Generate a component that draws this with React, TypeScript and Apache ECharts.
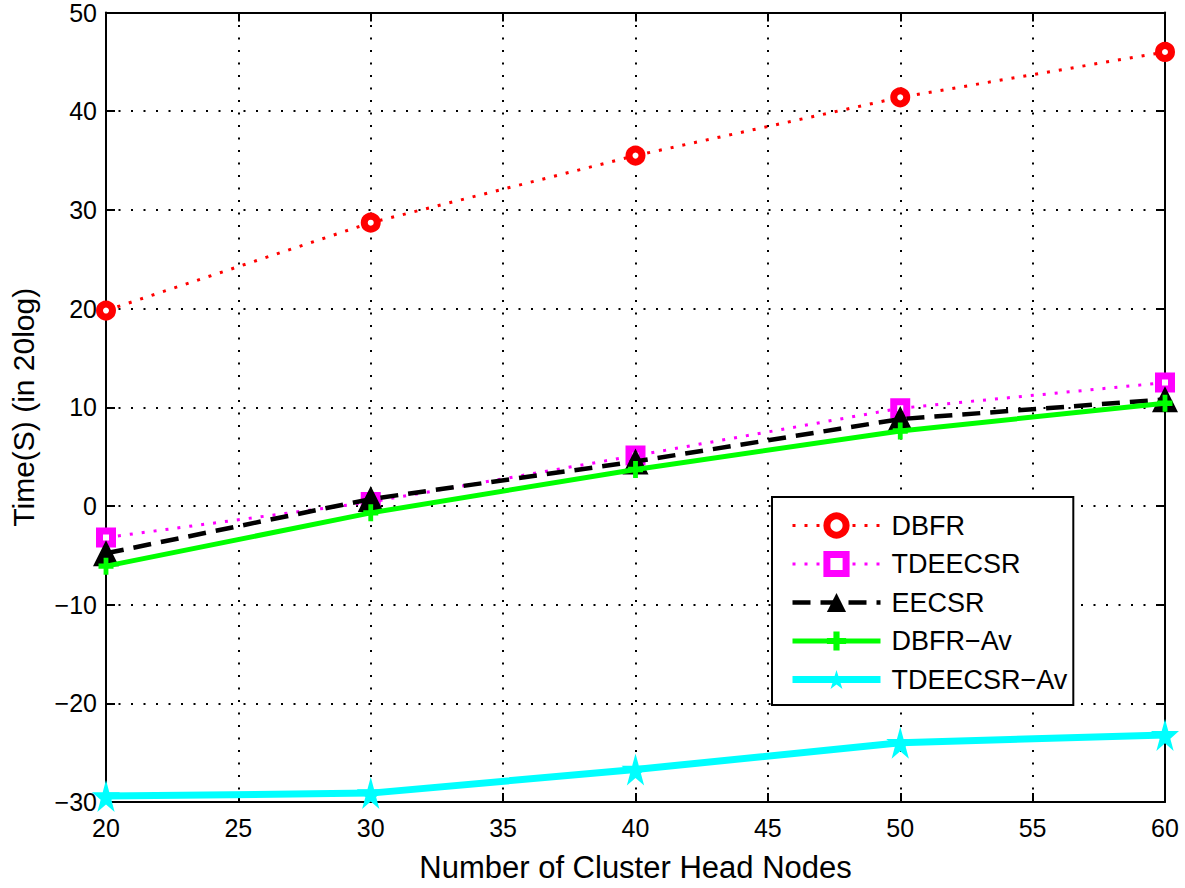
import React, { useEffect, useRef } from "react";
import * as echarts from "echarts";

const xValues = [20, 30, 40, 50, 60];
const dbfr = [19.8, 28.7, 35.5, 41.4, 46.0];
const tdeecsr = [-3.2, 0.4, 5.1, 9.9, 12.5];
const eecsr = [-4.8, 0.7, 4.5, 8.8, 10.8];
const dbfrAv = [-6.1, -0.7, 3.7, 7.6, 10.4];
const tdeecsrAv = [-29.4, -29.1, -26.7, -24.0, -23.2];
const seriesNames = ["DBFR", "TDEECSR", "EECSR", "DBFR\u2212Av", "TDEECSR\u2212Av"];

const FONT = "Liberation Sans";
const PLUS = "path://M3.4,0H6.6V3.4H10V6.6H6.6V10H3.4V6.6H0V3.4H3.4Z";
const STAR =
  "path://M100,0 L122.45,69.1 L195.1,69.1 L136.3,111.8 L158.8,180.9 L100,138.2 L41.2,180.9 L63.7,111.8 L4.9,69.1 L77.55,69.1 Z";

const pairs = (ys: number[]) => xValues.map((x, i) => [x, ys[i]]);

export default function App() {
  const ref = useRef<HTMLDivElement>(null);
  useEffect(() => {
    if (!ref.current) return;
    const chart = echarts.init(ref.current, undefined, { renderer: "svg" });
    const axisLineCommon = {
      axisLine: { show: true, onZero: false, lineStyle: { color: "#000", width: 2 } },
      axisTick: { show: true, inside: true, length: 9, lineStyle: { color: "#000", width: 2 } },
    };
    const gridLine = { show: true, lineStyle: { color: "#000", type: [2, 10.5], width: 2 } };
    chart.setOption({
      animation: false,
      backgroundColor: "#fff",
      textStyle: { fontFamily: FONT },
      grid: { left: 102, top: 11, right: 20, bottom: 82, show: false },
      legend: {
        orient: "vertical",
        left: 772,
        top: 497,
        itemWidth: 88,
        itemHeight: 24,
        itemGap: 11.5,
        padding: [15, 6, 12, 17],
        backgroundColor: "#fff",
        borderColor: "#000",
        borderWidth: 2,
        borderRadius: 0,
        itemStyle: { borderWidth: "inherit" },
        lineStyle: { width: "inherit" },
        textStyle: {
          fontFamily: FONT,
          fontSize: 27,
          lineHeight: 24,
          color: "#000",
          padding: [0, 0, 0, 6],
        },
        data: seriesNames,
      },
      xAxis: [
        {
          type: "value",
          min: 20,
          max: 60,
          interval: 5,
          position: "bottom",
          ...axisLineCommon,
          axisLabel: { color: "#000", fontSize: 25, fontFamily: FONT, margin: 13 },
          splitLine: gridLine,
          name: "Number of Cluster Head Nodes",
          nameLocation: "middle",
          nameGap: 50,
          nameTextStyle: { color: "#000", fontSize: 31, fontFamily: FONT },
        },
        {
          type: "value",
          min: 20,
          max: 60,
          interval: 5,
          position: "top",
          ...axisLineCommon,
          axisLabel: { show: false },
          splitLine: { show: false },
        },
      ],
      yAxis: [
        {
          type: "value",
          min: -30,
          max: 50,
          interval: 10,
          position: "left",
          ...axisLineCommon,
          axisLabel: {
            color: "#000",
            fontSize: 25,
            fontFamily: FONT,
            margin: 9,
            formatter: (v: number) => (v < 0 ? "\u2212" + Math.abs(v) : String(v)),
          },
          splitLine: gridLine,
          name: "Time(S) (in 20log)",
          nameLocation: "middle",
          nameGap: 68,
          nameTextStyle: { color: "#000", fontSize: 30, fontFamily: FONT },
        },
        {
          type: "value",
          min: -30,
          max: 50,
          interval: 10,
          position: "right",
          ...axisLineCommon,
          axisLabel: { show: false },
          splitLine: { show: false },
        },
      ],
      series: [
        {
          name: seriesNames[0],
          type: "line",
          data: pairs(dbfr),
          clip: false,
          symbol: "circle",
          symbolSize: 13,
          lineStyle: { color: "#ff0000", width: 3, type: [3, 9] },
          itemStyle: { color: "#ffffff", borderColor: "#ff0000", borderWidth: 7 },
          z: 5,
        },
        {
          name: seriesNames[1],
          type: "line",
          data: pairs(tdeecsr),
          clip: false,
          symbol: "rect",
          symbolSize: 13,
          lineStyle: { color: "#ff00ff", width: 3, type: [3, 9] },
          itemStyle: { color: "#ffffff", borderColor: "#ff00ff", borderWidth: 7 },
          z: 4,
        },
        {
          name: seriesNames[2],
          type: "line",
          data: pairs(eecsr),
          clip: false,
          symbol: "triangle",
          symbolSize: 26,
          lineStyle: { color: "#000", width: 4.5, type: [18, 10] },
          itemStyle: { color: "#000" },
          z: 6,
        },
        {
          name: seriesNames[3],
          type: "line",
          data: pairs(dbfrAv),
          clip: false,
          symbol: PLUS,
          symbolSize: [15, 17],
          lineStyle: { color: "#00ff00", width: 5, type: "solid" },
          itemStyle: { color: "#00ff00" },
          z: 7,
        },
        {
          name: seriesNames[4],
          type: "line",
          data: pairs(tdeecsrAv),
          clip: false,
          symbol: STAR,
          symbolSize: [28, 32],
          lineStyle: { color: "#00ffff", width: 7, type: "solid" },
          itemStyle: { color: "#00ffff" },
          z: 8,
        },
      ],
    });
    return () => chart.dispose();
  }, []);
  return (
    <div
      ref={ref}
      style={{ position: "fixed", left: 0, top: 0, width: 1185, height: 888, background: "#fff" }}
    />
  );
}
